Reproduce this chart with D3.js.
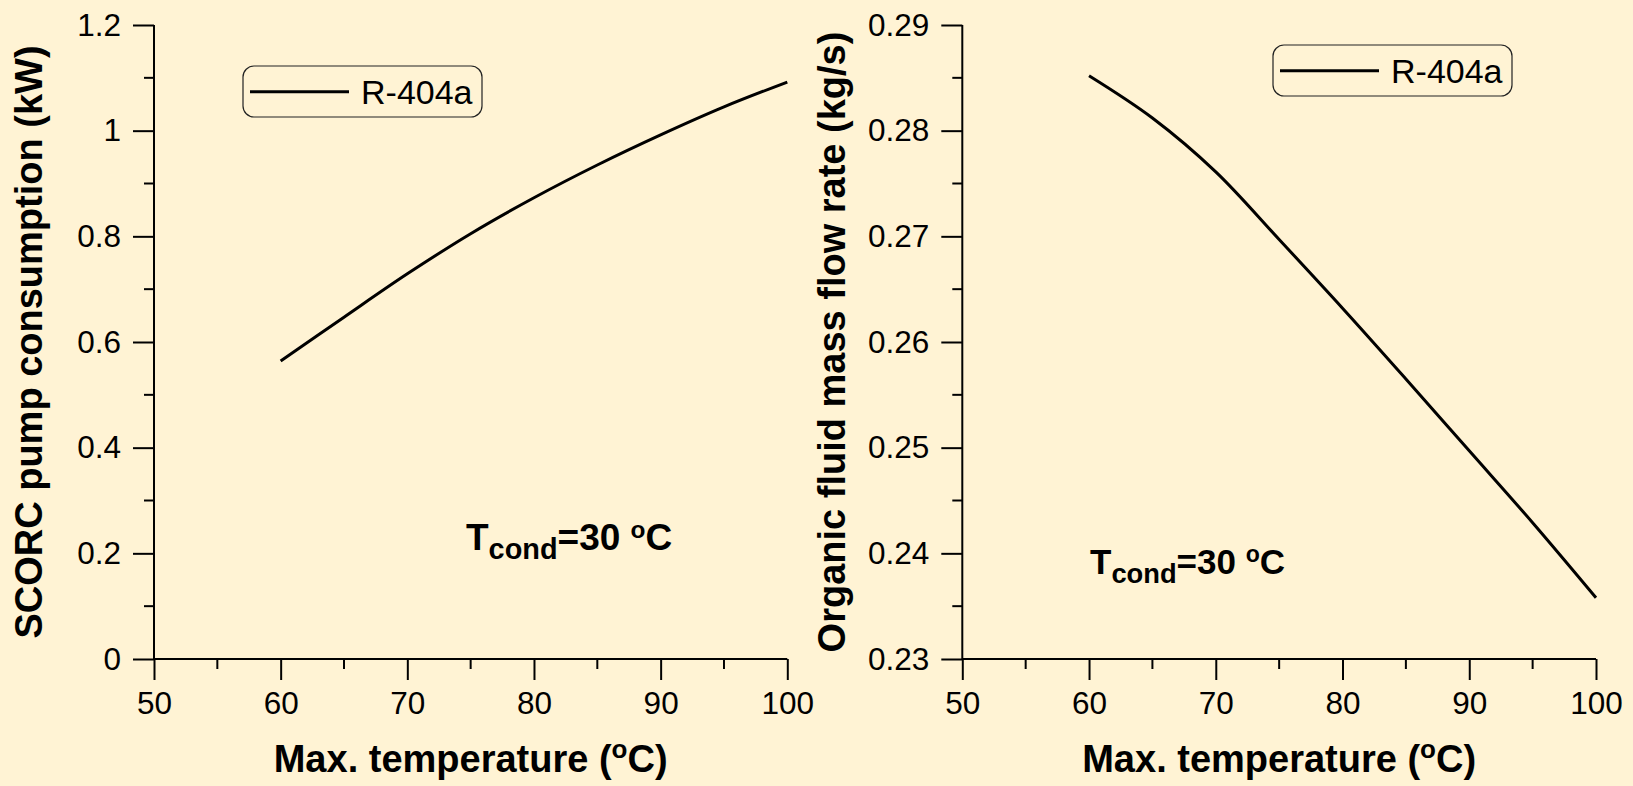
<!DOCTYPE html>
<html>
<head>
<meta charset="utf-8">
<script src="https://cdn.jsdelivr.net/npm/d3@7"></script>
<style>
html,body{margin:0;padding:0;background:#FFF3D4;}
svg{display:block;}
text{font-family:"Liberation Sans",Arial,sans-serif;fill:#000;}
</style>
</head>
<body>
<svg id="chart" width="1633" height="786"></svg>
<script>
// ---- data ----
const temps = [60, 65, 70, 75, 80, 85, 90, 95, 100];
const pumpPower = [0.564, 0.647, 0.729, 0.805, 0.873, 0.935, 0.992, 1.045, 1.092];
const massFlow = [0.2852, 0.2812, 0.2761, 0.2697, 0.2632, 0.2565, 0.2497, 0.2429, 0.2358];
const xTicks = [50, 60, 70, 80, 90, 100];
const leftYTicks = [0, 0.2, 0.4, 0.6, 0.8, 1.0, 1.2];
const leftYTickLabels = ["0", "0.2", "0.4", "0.6", "0.8", "1", "1.2"];
const rightYTicks = [0.23, 0.24, 0.25, 0.26, 0.27, 0.28, 0.29];
const rightYTickLabels = ["0.23", "0.24", "0.25", "0.26", "0.27", "0.28", "0.29"];
const seriesName = "R-404a";

const svg = d3.select("#chart");
svg.append("rect").attr("width", 1633).attr("height", 786).attr("fill", "#FFF3D4");

function panel(cfg) {
  const g = svg.append("g");
  const x = d3.scaleLinear().domain([50, 100]).range([cfg.x0, cfg.x1]);
  const y = d3.scaleLinear().domain(cfg.yDomain).range([659, 25]);

  // minor ticks
  const xMinor = d3.range(55, 100, 10);
  g.selectAll(".xminor").data(xMinor).enter().append("line")
    .attr("x1", d => x(d)).attr("x2", d => x(d)).attr("y1", 659).attr("y2", 669)
    .attr("stroke", "#000").attr("stroke-width", 2);
  g.selectAll(".yminor").data(cfg.yMinor).enter().append("line")
    .attr("x1", cfg.x0 - 10).attr("x2", cfg.x0).attr("y1", d => y(d)).attr("y2", d => y(d))
    .attr("stroke", "#000").attr("stroke-width", 2);

  // x axis
  const xAxis = d3.axisBottom(x).tickValues(xTicks).tickSize(21).tickPadding(12).tickFormat(d3.format("d"));
  const gx = g.append("g").attr("transform", "translate(0,659)").call(xAxis);
  gx.select(".domain").attr("d", `M${cfg.x0},0H${cfg.x1}`).attr("stroke-width", 2);
  gx.selectAll(".tick line").attr("stroke-width", 2);
  gx.selectAll(".tick text").attr("font-size", 31.5).attr("font-family", "Liberation Sans, Arial, sans-serif");

  // y axis
  const yAxis = d3.axisLeft(y).tickValues(cfg.yTicks).tickSize(21).tickPadding(12)
    .tickFormat((d, i) => cfg.yLabels[i]);
  const gy = g.append("g").attr("transform", `translate(${cfg.x0},0)`).call(yAxis);
  gy.select(".domain").attr("d", `M0,659V25`).attr("stroke-width", 2);
  gy.selectAll(".tick line").attr("stroke-width", 2);
  gy.selectAll(".tick text").attr("font-size", 31.5).attr("font-family", "Liberation Sans, Arial, sans-serif");

  // curve
  const line = d3.line().x((d, i) => x(temps[i])).y(d => y(d)).curve(d3.curveCatmullRom);
  g.append("path").datum(cfg.values).attr("d", line)
    .attr("fill", "none").attr("stroke", "#000").attr("stroke-width", 3);

  // x title
  const xt = g.append("text").attr("x", (cfg.x0 + cfg.x1) / 2).attr("y", 772)
    .attr("text-anchor", "middle").attr("font-size", 38).attr("font-weight", "bold");
  xt.append("tspan").text("Max. temperature (");
  xt.append("tspan").text("o").attr("font-size", 26).attr("dy", -14);
  xt.append("tspan").text("C)").attr("dy", 14);

  // y title
  g.append("text").attr("transform", `translate(${cfg.ytx},342) rotate(-90)`)
    .attr("text-anchor", "middle").attr("font-size", 38).attr("font-weight", "bold")
    .text(cfg.yTitle);

  // legend
  const lg = g.append("g").attr("transform", `translate(${cfg.legX},${cfg.legY})`);
  lg.append("rect").attr("x", 0).attr("y", 0).attr("width", 239).attr("height", 51)
    .attr("rx", 11).attr("ry", 11).attr("fill", "#FFF3D4").attr("stroke", "#222").attr("stroke-width", 1.2);
  lg.append("line").attr("x1", 7).attr("x2", 106).attr("y1", 25.7).attr("y2", 25.7)
    .attr("stroke", "#000").attr("stroke-width", 3);
  lg.append("text").attr("x", 118).attr("y", 37.7).attr("font-size", 34).text(seriesName);

  // annotation
  const an = g.append("text").attr("x", cfg.annX).attr("y", cfg.annY)
    .attr("font-size", cfg.annSize).attr("font-weight", "bold");
  an.append("tspan").text("T");
  an.append("tspan").text("cond").attr("font-size", cfg.annSize * 0.78).attr("dy", 9);
  an.append("tspan").text("=30 ").attr("dy", -9);
  an.append("tspan").text("o").attr("font-size", cfg.annSize * 0.66).attr("dy", -12);
  an.append("tspan").text("C").attr("dy", 12);
}

panel({
  x0: 154, x1: 787.3, yDomain: [0, 1.2], yTicks: leftYTicks, yLabels: leftYTickLabels,
  yMinor: [0.1, 0.3, 0.5, 0.7, 0.9, 1.1], values: pumpPower,
  yTitle: "SCORC pump consumption (kW)", ytx: 42,
  legX: 243, legY: 66, annX: 466, annY: 550, annSize: 37
});
panel({
  x0: 962.3, x1: 1596, yDomain: [0.23, 0.29], yTicks: rightYTicks, yLabels: rightYTickLabels,
  yMinor: [0.235, 0.245, 0.255, 0.265, 0.275, 0.285], values: massFlow,
  yTitle: "Organic fluid mass flow rate (kg/s)", ytx: 845,
  legX: 1273, legY: 45, annX: 1090, annY: 574, annSize: 35
});
</script>
</body>
</html>
